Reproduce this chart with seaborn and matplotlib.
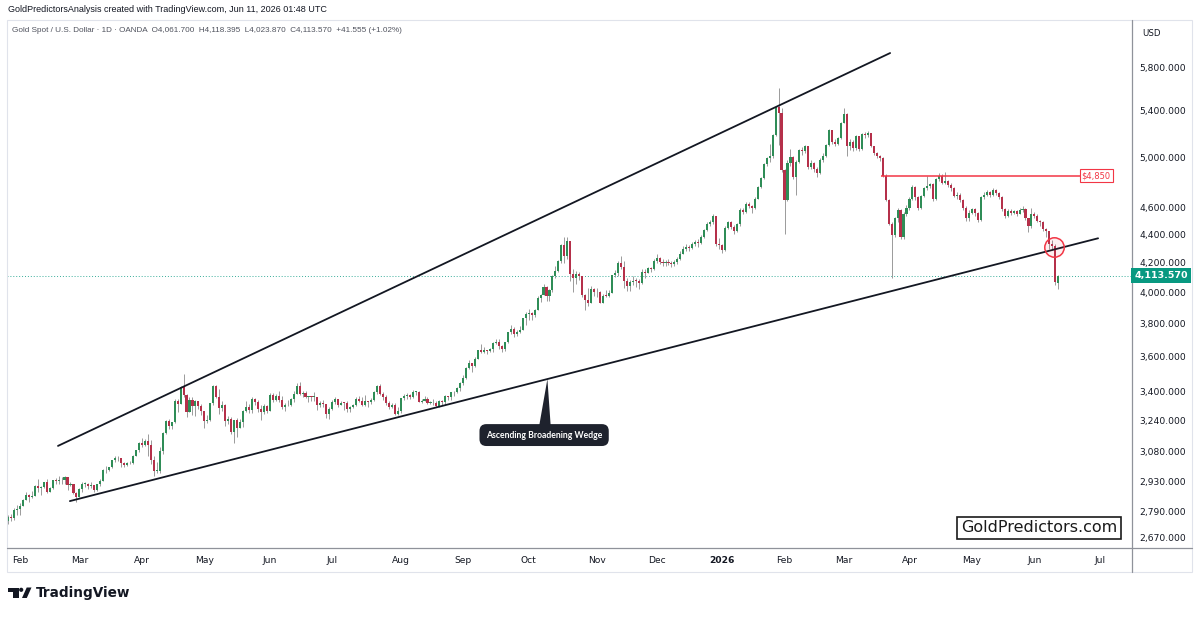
import numpy as np
import pandas as pd
import matplotlib.pyplot as plt
import matplotlib.patches as mpatches
from matplotlib.lines import Line2D
from matplotlib.ticker import NullLocator
import seaborn as sns

# Daily candles (Gold Spot / USD, OANDA, 1D), one line per month
first_open = 2745
closes = [
    2763, 2760, 2794, 2798,
    2815, 2842, 2866, 2856, 2861, 2908, 2898, 2904, 2928, 2882, 2898, 2935, 2933, 2939, 2936, 2951, 2915, 2916, 2876, 2858,
    2893, 2918, 2920, 2910, 2911, 2889, 2917, 2934, 2988, 2984, 3000, 3035, 3048, 3044, 3022, 3011, 3020, 3019, 3057, 3084, 3124,
    3113, 3133, 3114, 3037, 2982, 2982, 3082, 3175, 3237, 3211, 3230, 3343, 3327, 3424, 3381, 3288, 3349, 3319, 3344, 3317, 3289,
    3239, 3241, 3334, 3431, 3366, 3306, 3325, 3236, 3249, 3178, 3240, 3202, 3230, 3290, 3315, 3295, 3357, 3342, 3300, 3288, 3318, 3289,
    3381, 3353, 3373, 3352, 3310, 3326, 3322, 3354, 3387, 3432, 3385, 3388, 3369, 3370, 3368, 3368, 3323, 3332, 3328, 3274, 3303,
    3338, 3357, 3326, 3337, 3335, 3302, 3313, 3325, 3355, 3343, 3324, 3347, 3338, 3350, 3397, 3431, 3387, 3368, 3337, 3314, 3326, 3274, 3289,
    3363, 3373, 3381, 3368, 3396, 3398, 3342, 3348, 3356, 3335, 3336, 3332, 3316, 3348, 3339, 3371, 3365, 3393, 3397, 3416, 3448,
    3476, 3533, 3560, 3545, 3587, 3636, 3626, 3641, 3635, 3643, 3679, 3690, 3660, 3644, 3685, 3746, 3764, 3735, 3749, 3760, 3833, 3858,
    3866, 3857, 3886, 3961, 3985, 4040, 3976, 4017, 4110, 4143, 4210, 4326, 4250, 4356, 4125, 4096, 4126, 4112, 3982, 3952, 3930, 4024, 4002,
    4001, 3932, 3980, 3977, 4000, 4115, 4128, 4200, 4175, 4080, 4045, 4067, 4078, 4076, 4064, 4135, 4131, 4165, 4157, 4215,
    4235, 4205, 4200, 4208, 4197, 4190, 4208, 4230, 4265, 4300, 4310, 4305, 4335, 4345, 4340, 4380, 4435, 4480, 4490, 4535, 4335, 4325,
    4290, 4450, 4490, 4455, 4430, 4475, 4580, 4570, 4630, 4615, 4595, 4670, 4760, 4830, 4940, 4990, 5010, 5185, 5430, 5380, 4895,
    4660, 4950, 5000, 4840, 4960, 5060, 5050, 5090, 4920, 4950, 4900, 4870, 4975, 5010, 5100, 5225, 5130, 5110, 5160, 5290,
    5370, 5090, 5130, 5075, 5175, 5070, 5190, 5185, 5200, 5090, 5030, 5010, 4990, 4850, 4660, 4480, 4400, 4520, 4580, 4380, 4555, 4600,
    4670, 4760, 4680, 4600, 4690, 4750, 4765, 4780, 4665, 4825, 4850, 4795, 4810, 4775, 4750, 4690, 4700, 4660, 4600, 4520, 4560,
    4590, 4560, 4510, 4680, 4700, 4720, 4700, 4740, 4715, 4680, 4590, 4540, 4575, 4560, 4575, 4555, 4585, 4590, 4520, 4460, 4550,
    4540, 4500, 4490, 4440, 4425, 4335, 4320, 4072.015,
]
highs = [
    2772, 2775, 2806, 2817,
    2830, 2845, 2882, 2870, 2886, 2911, 2942, 2908, 2930, 2942, 2905, 2938, 2947, 2955, 2950, 2956, 2950, 2930, 2918, 2880,
    2900, 2928, 2930, 2925, 2930, 2915, 2920, 2940, 2990, 3005, 3001, 3038, 3057, 3057, 3046, 3027, 3025, 3033, 3060, 3087, 3128,
    3149, 3140, 3168, 3136, 3055, 3024, 3100, 3177, 3245, 3246, 3231, 3357, 3358, 3430, 3500, 3386, 3370, 3368, 3350, 3325, 3328,
    3285, 3270, 3336, 3436, 3435, 3410, 3344, 3330, 3265, 3260, 3245, 3252, 3250, 3296, 3345, 3330, 3366, 3362, 3351, 3325, 3330, 3325,
    3392, 3392, 3385, 3403, 3376, 3336, 3350, 3360, 3400, 3446, 3451, 3403, 3399, 3376, 3373, 3398, 3368, 3348, 3350, 3330, 3310,
    3350, 3365, 3359, 3345, 3342, 3345, 3317, 3331, 3370, 3375, 3366, 3377, 3345, 3360, 3402, 3434, 3439, 3393, 3377, 3345, 3334, 3333, 3315,
    3363, 3385, 3390, 3385, 3409, 3400, 3400, 3358, 3375, 3370, 3345, 3359, 3345, 3350, 3351, 3378, 3376, 3393, 3400, 3423, 3453,
    3490, 3540, 3578, 3564, 3600, 3637, 3674, 3657, 3640, 3650, 3685, 3703, 3707, 3668, 3688, 3750, 3791, 3780, 3761, 3785, 3835, 3871,
    3895, 3875, 3890, 3977, 3990, 4059, 4045, 4022, 4116, 4180, 4218, 4330, 4380, 4381, 4358, 4160, 4146, 4136, 4098, 3990, 4030, 4045, 4030,
    4030, 4010, 3992, 4020, 4015, 4120, 4148, 4210, 4245, 4210, 4095, 4085, 4110, 4100, 4090, 4155, 4160, 4175, 4170, 4225,
    4262, 4240, 4225, 4220, 4230, 4210, 4220, 4240, 4285, 4320, 4330, 4325, 4350, 4360, 4370, 4395, 4445, 4495, 4510, 4550, 4535, 4375,
    4335, 4460, 4500, 4500, 4470, 4485, 4595, 4600, 4640, 4640, 4620, 4680, 4770, 4840, 4950, 5000, 5110, 5190, 5440, 5600, 5420,
    4900, 4980, 5070, 5010, 4980, 5070, 5080, 5100, 5095, 4980, 4960, 4920, 4990, 5030, 5110, 5240, 5230, 5150, 5170, 5300,
    5420, 5380, 5150, 5140, 5185, 5180, 5200, 5215, 5220, 5205, 5095, 5040, 5020, 5000, 4860, 4670, 4490, 4530, 4600, 4590, 4565, 4620,
    4680, 4775, 4770, 4690, 4700, 4760, 4850, 4790, 4790, 4830, 4870, 4860, 4880, 4815, 4790, 4760, 4720, 4710, 4670, 4610, 4580,
    4600, 4600, 4570, 4690, 4720, 4740, 4730, 4750, 4745, 4720, 4690, 4600, 4590, 4590, 4585, 4580, 4595, 4610, 4600, 4525, 4600,
    4565, 4550, 4510, 4500, 4450, 4430, 4365, 4330,
]
lows = [
    2730, 2745, 2752, 2772,
    2772, 2812, 2840, 2834, 2852, 2860, 2880, 2864, 2900, 2877, 2880, 2896, 2918, 2920, 2918, 2920, 2890, 2908, 2870, 2832,
    2855, 2880, 2903, 2893, 2897, 2880, 2884, 2910, 2931, 2970, 2982, 2998, 3024, 3030, 3000, 3001, 3008, 3015, 3016, 3054, 3076,
    3100, 3106, 3054, 3015, 2956, 2970, 2970, 3067, 3170, 3195, 3195, 3229, 3283, 3330, 3367, 3260, 3287, 3269, 3266, 3300, 3268,
    3202, 3228, 3235, 3323, 3360, 3276, 3290, 3208, 3220, 3170, 3120, 3154, 3207, 3206, 3284, 3278, 3280, 3326, 3286, 3245, 3277, 3278,
    3290, 3342, 3344, 3340, 3303, 3293, 3317, 3316, 3342, 3385, 3380, 3368, 3364, 3340, 3347, 3348, 3295, 3312, 3313, 3255, 3247,
    3294, 3329, 3311, 3326, 3296, 3287, 3283, 3305, 3320, 3340, 3320, 3320, 3310, 3331, 3345, 3383, 3381, 3351, 3325, 3301, 3308, 3268, 3268,
    3281, 3350, 3355, 3357, 3363, 3378, 3341, 3332, 3346, 3330, 3330, 3323, 3312, 3311, 3325, 3324, 3352, 3351, 3376, 3390, 3400,
    3436, 3468, 3525, 3511, 3537, 3586, 3620, 3622, 3613, 3628, 3627, 3673, 3645, 3628, 3633, 3684, 3735, 3717, 3722, 3740, 3759, 3793,
    3820, 3820, 3845, 3884, 3938, 3983, 3945, 3944, 4006, 4096, 4140, 4203, 4200, 4227, 4080, 4003, 4056, 4083, 3972, 3886, 3915, 3940, 3980,
    3970, 3930, 3930, 3968, 3970, 4000, 4105, 4110, 4160, 4030, 4010, 4010, 4050, 4040, 4025, 4060, 4100, 4130, 4140, 4150,
    4200, 4190, 4180, 4180, 4185, 4170, 4180, 4195, 4220, 4260, 4285, 4280, 4300, 4320, 4315, 4335, 4375, 4425, 4465, 4480, 4320, 4300,
    4270, 4285, 4440, 4445, 4405, 4420, 4465, 4550, 4560, 4600, 4560, 4590, 4665, 4750, 4820, 4925, 4960, 4995, 5180, 5100, 4880,
    4405, 4650, 4930, 4820, 4700, 4950, 5020, 5030, 4900, 4900, 4880, 4840, 4860, 4960, 5000, 5090, 5110, 5090, 5100, 5150,
    5285, 5010, 5060, 5050, 5060, 5050, 5060, 5160, 5170, 5080, 5020, 4995, 4970, 4840, 4650, 4470, 4100, 4380, 4490, 4370, 4370, 4540,
    4580, 4660, 4660, 4580, 4590, 4680, 4740, 4750, 4650, 4660, 4810, 4780, 4780, 4760, 4730, 4680, 4670, 4640, 4580, 4500, 4500,
    4550, 4540, 4495, 4500, 4670, 4690, 4680, 4690, 4700, 4670, 4575, 4525, 4530, 4545, 4550, 4540, 4550, 4570, 4510, 4420, 4450,
    4520, 4490, 4460, 4430, 4380, 4300, 4290, 4050,
]
# last candle, as in the header
last_ohlc = (4061.700, 4118.395, 4023.870, 4113.570)

price_ticks = [2670, 2790, 2930, 3080, 3240, 3400, 3600, 3800, 4000, 4200, 4400, 4600, 5000, 5400, 5800]
closed_days = ['2025-04-18', '2025-12-25', '2026-01-01', '2026-04-03']

# drawings (bar number, price)
wedge_upper = ([16.8, 296.5], [3107, 5935])
wedge_lower = ([20.8, 366.4], [2837, 4374])
level_4850 = (293.5, 360.3, 4850)
break_point = (351.6, 4312)
label_pos = (180.2, 3163)

GREEN = '#2f8d57'
RED = '#b5304a'
WICK = '#9a9a9a'
INK = '#131722'

sns.set_theme(style='white')
plt.rcParams['font.family'] = ['DejaVu Sans']

# build candle table
dates = pd.bdate_range('2025-01-28', '2026-06-11')
dates = dates[~dates.isin(pd.to_datetime(closed_days))]
df = pd.DataFrame({'date': dates,
                   'close': closes + [last_ohlc[3]],
                   'high': highs + [last_ohlc[1]],
                   'low': lows + [last_ohlc[2]]})
df['open'] = df['close'].shift(1)
df.loc[0, 'open'] = first_open
df.loc[len(df) - 1, 'open'] = last_ohlc[0]
df['high'] = df[['high', 'open', 'close']].max(axis=1)
df['low'] = df[['low', 'open', 'close']].min(axis=1)
df['bar'] = np.arange(len(df))

fig = plt.figure(figsize=(12, 6.17), dpi=100)
W, H = 1200, 617
ax = fig.add_axes([7 / W, 1 - 548 / H, (1132 - 7) / W, (548 - 20) / H])
ax.set_yscale('log')

# candles
ax.vlines(df['bar'], df['low'], df['high'], color=WICK, lw=0.7, zorder=2)
bottom = df[['open', 'close']].min(axis=1)
height = np.maximum((df['close'] - df['open']).abs(), df['close'] * 0.0012)
up = df['close'] >= df['open']
ax.bar(df['bar'][up], height[up], bottom=bottom[up], width=0.7, color=GREEN, linewidth=0, zorder=3)
ax.bar(df['bar'][~up], height[~up], bottom=bottom[~up], width=0.7, color=RED, linewidth=0, zorder=3)

# wedge lines
wedge_df = pd.DataFrame({'bar': wedge_upper[0] + wedge_lower[0],
                         'price': wedge_upper[1] + wedge_lower[1],
                         'line': ['upper', 'upper', 'lower', 'lower']})
sns.lineplot(data=wedge_df, x='bar', y='price', units='line', estimator=None,
             color=INK, lw=1.3, ax=ax, legend=False, zorder=4)

# resistance level
ax.hlines(level_4850[2], level_4850[0], level_4850[1], color='#f23645', lw=1.1, zorder=4)
ax.text(level_4850[1] + 0.6, level_4850[2], '$4,850', fontsize=6.0, color='#f23645',
        ha='left', va='center', zorder=5,
        bbox=dict(boxstyle='square,pad=0.22', fc='white', ec='#f23645', lw=0.8))

# break circle
ax.plot(*break_point, 'o', ms=14, mfc=(0.95, 0.2, 0.27, 0.08), mec='#f23645', mew=1.1, zorder=6)

# last price line
last_close = df['close'].iloc[-1]
ax.axhline(last_close, color='#089981', ls=(0, (1, 2)), lw=0.7, alpha=0.8, zorder=1)

# pattern label with pointer
tip = np.interp(181.3, wedge_lower[0], np.log(wedge_lower[1]))
ax.fill([178.3, 181.3, 182.5], [3190, np.exp(tip), 3190], color='#1e222d', lw=0, zorder=5)
ax.text(*label_pos, 'Ascending Broadening Wedge', ha='center', va='center', fontsize=6.2,
        color='white', weight='bold', family=['Lato', 'DejaVu Sans'], zorder=6,
        bbox=dict(boxstyle='round,pad=0.75,rounding_size=0.8', fc='#1e222d', ec='none'))

# axes
ax.set_xlim(-0.34, 377.8)
ax.set_ylim(2626, 6267)
ax.yaxis.tick_right()
ax.set_yticks(price_ticks)
ax.set_yticklabels([f'{p:,.3f}' for p in price_ticks])
ax.yaxis.set_minor_locator(NullLocator())
ax.tick_params(axis='y', length=0, pad=5.5, labelsize=6.6, labelcolor=INK)

future = pd.bdate_range(df['date'].iloc[-1] + pd.Timedelta(days=1), '2026-07-01')
all_dates = pd.Series(list(df['date']) + list(future))
month = all_dates.dt.to_period('M')
starts = np.where(month != month.shift(1))[0][1:]
tick_labels = ['2026' if all_dates[i].month == 1 else all_dates[i].strftime('%b') for i in starts]
ax.set_xticks(starts)
ax.set_xticklabels(tick_labels)
ax.tick_params(axis='x', length=0, pad=6, labelsize=6.6, labelcolor=INK)
for lbl in ax.get_xticklabels():
    if lbl.get_text() == '2026':
        lbl.set_fontweight('bold')
ax.set_xlabel('')
ax.set_ylabel('')
for s in ax.spines.values():
    s.set_visible(False)
ax.grid(False)

def fx(x):
    return x / W

def fy(y):
    return 1 - y / H

# frame and axis separators
fig.add_artist(mpatches.Rectangle((fx(7), fy(572)), fx(1192) - fx(7), fy(20) - fy(572),
                                  transform=fig.transFigure, fill=False, ec='#e0e3eb', lw=0.8))
fig.add_artist(Line2D([fx(7), fx(1192)], [fy(548), fy(548)], transform=fig.transFigure, color='#8f929a', lw=0.9))
fig.add_artist(Line2D([fx(1132), fx(1132)], [fy(20), fy(572)], transform=fig.transFigure, color='#8f929a', lw=0.9))

# price tag
fig.text(fx(1161), ax.transData.transform((0, last_close))[1] / fig.bbox.height,
         f'{last_close:,.3f}', ha='center', va='center', fontsize=6.8, color='white', weight='bold',
         bbox=dict(boxstyle='square,pad=0.35', fc='#089981', ec='none'))
fig.text(fx(1142), fy(33), 'USD', fontsize=6.2, color=INK, va='center')

# headers
fig.text(fx(8), fy(10), 'GoldPredictorsAnalysis created with TradingView.com, Jun 11, 2026 01:48 UTC',
         fontsize=6.5, color=INK, va='center', family=['Liberation Sans', 'DejaVu Sans'])
prev_close = df['close'].iloc[-2]
chg = last_close - prev_close
o, h, l, c = last_ohlc
fig.text(fx(12), fy(31),
         f'Gold Spot / U.S. Dollar \u00b7 1D \u00b7 OANDA  O{o:,.3f}  H{h:,.3f}  L{l:,.3f}  C{c:,.3f}  '
         f'+{chg:,.3f} (+{chg / prev_close * 100:.2f}%)',
         fontsize=5.9, color='#50535e', va='center', family=['Liberation Sans', 'DejaVu Sans'])

# watermark
fig.text(fx(1039), fy(528), 'GoldPredictors.com', ha='center', va='center', fontsize=11.5, color='#1a1a1a',
         bbox=dict(boxstyle='square,pad=0.22', fc='white', ec='#1a1a1a', lw=1.2))

# TradingView footer logo
logo = '#131722'
fig.add_artist(mpatches.Polygon([(fx(8), fy(587.5)), (fx(18.5), fy(587.5)), (fx(18.5), fy(598)),
                                 (fx(13.4), fy(598)), (fx(13.4), fy(591.8)), (fx(8), fy(591.8))],
                                transform=fig.transFigure, fc=logo, ec='none'))
fig.add_artist(mpatches.Ellipse((fx(21.2), fy(589.8)), 4.2 / W, 4.2 / H, transform=fig.transFigure, fc=logo, ec='none'))
fig.add_artist(mpatches.Polygon([(fx(22), fy(598)), (fx(26.8), fy(598)), (fx(31.5), fy(587.5)), (fx(26.7), fy(587.5))],
                                transform=fig.transFigure, fc=logo, ec='none'))
fig.text(fx(36), fy(593.5), 'TradingView', fontsize=9.8, weight='bold', color=logo, va='center')

fig.savefig('out.png', dpi=100)
